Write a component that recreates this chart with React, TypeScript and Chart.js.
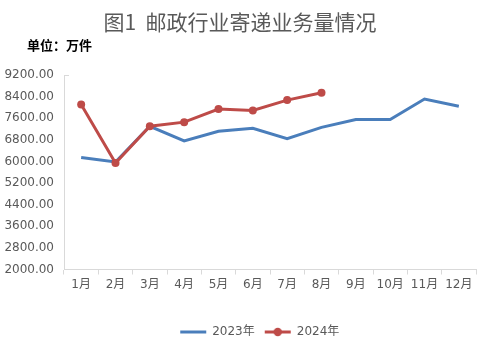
import React, { useEffect, useRef } from "react";
import { Chart, registerables } from "chart.js";

Chart.register(...registerables);

const months = ["1月", "2月", "3月", "4月", "5月", "6月", "7月", "8月", "9月", "10月", "11月", "12月"];
const series2023 = [6150, 5980, 7300, 6760, 7120, 7230, 6840, 7260, 7555, 7555, 8310, 8040];
const series2024 = [8110, 5945, 7305, 7455, 7940, 7890, 8270, 8545];
const label2023 = "2023年";
const label2024 = "2024年";
const titleText = "图1  邮政行业寄递业务量情况";
const unitText = "单位：万件";
const yMin = 2000;
const yMax = 9200;
const yStep = 800;

const BLUE = "#4a7ebb";
const RED = "#be4b48";
const GRAY = "#595959";
const FONT = "'DejaVu Sans', 'Noto Sans CJK SC', sans-serif";

function makeLegendIcon(color: string, dot: boolean): HTMLCanvasElement {
  const c = document.createElement("canvas");
  c.width = 28;
  c.height = 10;
  const ctx = c.getContext("2d")!;
  ctx.strokeStyle = color;
  ctx.lineWidth = 3;
  ctx.beginPath();
  ctx.moveTo(1, 5);
  ctx.lineTo(27, 5);
  ctx.stroke();
  if (dot) {
    ctx.fillStyle = color;
    ctx.beginPath();
    ctx.arc(14, 5, 4.2, 0, Math.PI * 2);
    ctx.fill();
  }
  return c;
}

const textPlugin = {
  id: "textPlugin",
  afterLayout(chart: any) {
    if (chart.legend) {
      chart.legend.left += 21;
      chart.legend.right += 21;
    }
  },
  afterDraw(chart: any) {
    const ctx = chart.ctx as CanvasRenderingContext2D;
    ctx.save();
    ctx.fillStyle = GRAY;
    ctx.font = "21px 'Noto Sans CJK SC', sans-serif";
    ctx.textAlign = "center";
    ctx.textBaseline = "middle";
    ctx.fillText(titleText, 240, 22);
    ctx.fillStyle = "#000";
    ctx.font = "bold 13px 'Noto Sans CJK SC', sans-serif";
    ctx.textAlign = "left";
    ctx.fillText(unitText, 27, 45);
    // small tick at the top of the value axis
    const area = chart.chartArea;
    ctx.strokeStyle = "#d9d9d9";
    ctx.lineWidth = 1;
    ctx.beginPath();
    ctx.moveTo(area.left, Math.round(area.top) + 0.5);
    ctx.lineTo(area.left + 5, Math.round(area.top) + 0.5);
    ctx.stroke();
    ctx.restore();
  },
};

export default function App() {
  const ref = useRef<HTMLCanvasElement | null>(null);
  useEffect(() => {
    document.body.style.margin = "0";
    const icon2023 = makeLegendIcon(BLUE, false);
    const icon2024 = makeLegendIcon(RED, true);
    const chart = new Chart(ref.current!, {
      type: "line",
      data: {
        labels: months,
        datasets: [
          {
            label: label2023,
            data: series2023,
            borderColor: BLUE,
            backgroundColor: BLUE,
            borderWidth: 3,
            pointRadius: 0,
            tension: 0,
            order: 1,
          },
          {
            label: label2024,
            data: series2024,
            borderColor: RED,
            backgroundColor: RED,
            borderWidth: 3,
            pointRadius: 4,
            pointBackgroundColor: RED,
            pointBorderColor: RED,
            pointBorderWidth: 0,
            tension: 0,
            order: 0,
          },
        ],
      },
      options: {
        responsive: false,
        animation: false,
        layout: { padding: { top: 75, left: 0, right: 2.5, bottom: 4 } },
        plugins: {
          tooltip: { enabled: false },
          title: { display: false },
          legend: {
            position: "bottom",
            labels: {
              usePointStyle: true,
              pointStyleWidth: 26,
              padding: 10,
              color: GRAY,
              font: { family: FONT, size: 12 },
              sort: (a: any, b: any) => a.datasetIndex - b.datasetIndex,
              generateLabels: (chart: any) => {
                const items = Chart.defaults.plugins.legend.labels.generateLabels(chart);
                items.forEach((it: any) => {
                  it.pointStyle = it.datasetIndex === 0 ? icon2023 : icon2024;
                });
                return items;
              },
            },
          },
        },
        scales: {
          x: {
            offset: true,
            grid: {
              display: true,
              offset: true,
              drawOnChartArea: false,
              drawTicks: true,
              tickLength: 5,
              color: "#d9d9d9",
            },
            border: { display: true, color: "#d9d9d9" },
            ticks: { color: GRAY, font: { family: FONT, size: 12 }, padding: 3, maxRotation: 0, autoSkip: false },
            afterFit: (scale: any) => {
              scale.height = 46.5;
            },
          },
          y: {
            min: yMin,
            max: yMax,
            grid: { display: false, drawTicks: false },
            border: { display: true, color: "#d9d9d9" },
            ticks: {
              stepSize: yStep,
              color: GRAY,
              font: { family: FONT, size: 12 },
              padding: 10,
              callback: (v: any) => Number(v).toFixed(2),
            },
            afterFit: (scale: any) => {
              scale.width = 64;
            },
          },
        },
      },
      plugins: [textPlugin],
    } as any);
    return () => chart.destroy();
  }, []);
  return <canvas ref={ref} width={480} height={352} style={{ display: "block" }} />;
}
